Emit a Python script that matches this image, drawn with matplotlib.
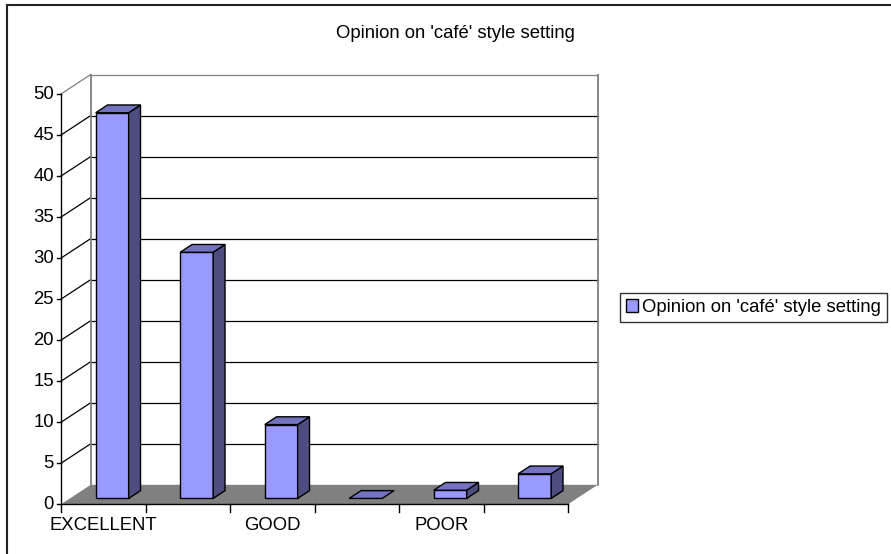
import matplotlib
matplotlib.use("Agg")
import matplotlib.pyplot as plt
from matplotlib.patches import Polygon, Rectangle

plt.rcParams['font.family'] = ['Liberation Sans', 'DejaVu Sans']

# chart data
title = "Opinion on 'café' style setting"
tick_labels = ["EXCELLENT", "", "GOOD", "", "POOR", ""]
values = [47, 30, 9, 0, 1, 3]
y_ticks = [0, 5, 10, 15, 20, 25, 30, 35, 40, 45, 50]

FRONT = "#9999FF"
TOP = "#7373BF"
SIDE = "#4D4D80"
FS = 13.3

W, H = 891, 554
fig = plt.figure(figsize=(W / 100, H / 100), dpi=100)
ax = fig.add_axes([0, 0, 1, 1])
ax.set_axis_off()

# one category = 84.5 px, one unit of value = 8.2 px; origin at (61, 504)
cat_px, val_px = 84.5, 8.206
x0_px, y0_px = 61, 504.3
ax.set_xlim(-x0_px / cat_px, (W - x0_px) / cat_px)
ax.set_ylim((y0_px - H) / val_px, y0_px / val_px)

n = len(values)
ymax = y_ticks[-1]
DX, DY = 29.7 / cat_px, 19.5 / val_px   # oblique depth offset

# floor
ax.add_patch(Polygon([(0, 0), (n, 0), (n + DX, DY), (DX, DY)],
                     closed=True, fc="#808080", ec="none", zorder=1))

# walls: gridlines on back wall plus the slanted ones on the side
for v in y_ticks[1:]:
    c = "#808080" if v == ymax else "black"
    ax.plot([DX, n + DX], [v + DY, v + DY], color=c, lw=0.9, zorder=2)
    ax.plot([0, DX], [v, v + DY], color=c, lw=0.9, zorder=2)
ax.plot([DX, DX], [DY, ymax + DY], color="#808080", lw=1.3, zorder=2)
ax.plot([n + DX, n + DX], [DY, ymax + DY], color="#808080", lw=1.3, zorder=2)

# axes lines and ticks
ax.plot([0, 0], [0, ymax], color="black", lw=1.0, zorder=3)
ax.plot([0, n], [0, 0], color="black", lw=1.0, zorder=3)
tick_len_x = 4 / cat_px
for v in y_ticks:
    ax.plot([-tick_len_x, 0], [v, v], color="black", lw=1.0, zorder=3)
    ax.text(-7 / cat_px, v, str(v), ha="right", va="center", fontsize=FS)
for i in range(n + 1):
    ax.plot([i, i], [0, -8 / val_px], color="black", lw=1.0, zorder=3)
for i, lab in enumerate(tick_labels):
    if lab:
        ax.text(i + 0.5, -21 / val_px, lab, ha="center", va="center", fontsize=FS)

# 3d columns
bw, d0, d1 = 0.39, 0.3, 0.7
for i, v in enumerate(values):
    xa = i + 0.5 - bw / 2
    xb = i + 0.5 + bw / 2
    fa, fb = d0 * DX, d1 * DX
    ya, yb = d0 * DY, d1 * DY
    front = [(xa + fa, ya), (xb + fa, ya), (xb + fa, v + ya), (xa + fa, v + ya)]
    side = [(xb + fa, ya), (xb + fb, yb), (xb + fb, v + yb), (xb + fa, v + ya)]
    top = [(xa + fa, v + ya), (xb + fa, v + ya), (xb + fb, v + yb), (xa + fb, v + yb)]
    kw = dict(closed=True, ec="black", lw=1.0, zorder=5)
    if v > 0:
        ax.add_patch(Polygon(front, fc=FRONT, label=title if i == 0 else None, **kw))
        ax.add_patch(Polygon(side, fc=SIDE, **kw))
    ax.add_patch(Polygon(top, fc=TOP, **kw))

# title
fig.text(455 / W, 1 - 34 / H, title, ha="center", va="center", fontsize=FS)

# legend
leg = fig.legend(loc="center left", bbox_to_anchor=(620 / W, 1 - 307.5 / H),
                 fontsize=FS, frameon=True, fancybox=False, borderaxespad=0,
                 borderpad=0.3, handlelength=0.65, handleheight=0.65,
                 handletextpad=0.25)
leg.get_frame().set_edgecolor("black")
leg.get_frame().set_linewidth(1.0)

# chart frame
fig.patches.append(Rectangle((7 / W, -0.1), 1.2, 1.1 - 5 / H, transform=fig.transFigure,
                             fill=False, ec="#222222", lw=1.5, zorder=0))

fig.savefig("out.png", dpi=100)
